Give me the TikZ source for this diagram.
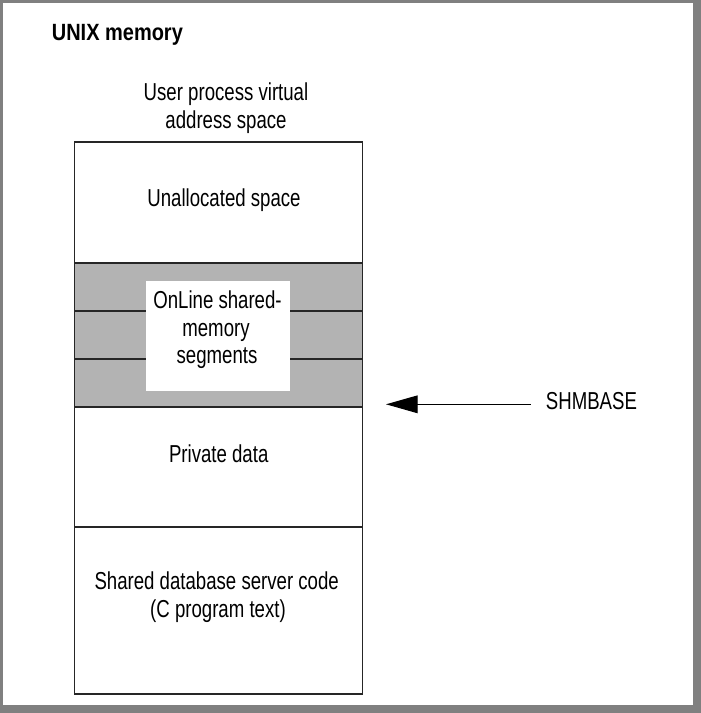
\documentclass[tikz,border=0pt]{standalone}
\usepackage{fontspec}
\setmainfont{Liberation Sans}[FakeStretch=0.76]
\newfontfamily\titlefont{Liberation Sans}[FakeStretch=0.85]
\usetikzlibrary{arrows.meta}
\definecolor{framegray}{HTML}{808080}
\definecolor{bandgray}{HTML}{B3B3B3}
\begin{document}
\begin{tikzpicture}[x=1pt,y=-1pt,
  lbl/.style={inner sep=0pt,anchor=base,font=\fontsize{24.5}{27.5}\selectfont},
  ttl/.style={inner sep=0pt,anchor=base west,font=\titlefont\bfseries\fontsize{23.5}{27}\selectfont},
  memline/.style={line width=1.2pt,draw=black!85},
  arr/.style={line width=1.1pt,-{Triangle[length=31.7pt,width=17.7pt]}}]
\useasboundingbox (0,0) rectangle (701,713);
% frame
\fill[framegray] (0,0) rectangle (701,713);
\fill[white] (3,3) rectangle (693,705);
% title
\node[ttl] (title) at (51.7,40.5) {UNIX memory};
\node[lbl] (cap1) at (226,100.5) {User process virtual};
\node[lbl] (cap2) at (226,128) {address space};
% memory column
\fill[bandgray] (74.7,263) rectangle (362.7,407);
\draw[memline] (74.7,311) -- (362.7,311);
\draw[memline] (74.7,359) -- (362.7,359);
\fill[white] (146,281) rectangle (290,391);
\draw[memline] (74.7,263) -- (362.7,263);
\draw[memline] (74.7,407) -- (362.7,407);
\draw[memline] (74.7,527) -- (362.7,527);
\draw[memline] (74.7,142) rectangle (362.7,694);
% labels
\node[lbl] (unalloc) at (224,206.5) {Unallocated space};
\node[lbl] (shm1) at (217.5,308.3) {OnLine shared-};
\node[lbl] (shm2) at (216,336) {memory};
\node[lbl] (shm3) at (217,363) {segments};
\node[lbl] (priv) at (218.7,462) {Private data};
\node[lbl] (code1) at (216.7,589) {Shared database server code};
\node[lbl] (code2) at (218,617) {(C program text)};
% SHMBASE pointer
\node[lbl,anchor=base west] (shmbase) at (545.7,409.3) {SHMBASE};
\coordinate (tail) at (530.7,404.3);
\coordinate (tip) at (386,404.3);
\draw[arr] (tail) -- (tip);
\end{tikzpicture}
\end{document}
